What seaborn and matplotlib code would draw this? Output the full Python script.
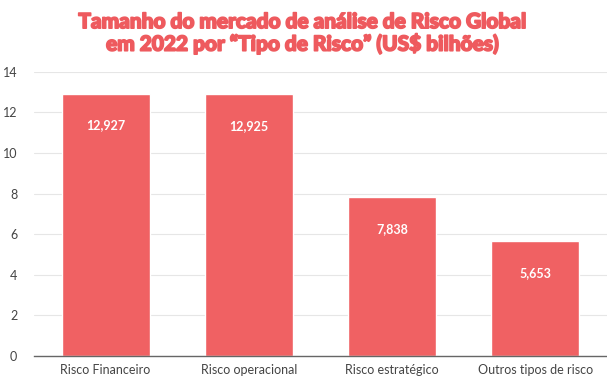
import matplotlib
matplotlib.use("Agg")
import matplotlib.pyplot as plt
import matplotlib.patheffects as pe
import seaborn as sns
import pandas as pd

categories = ["Risco Financeiro", "Risco operacional", "Risco estratégico", "Outros tipos de risco"]
values = [12.927, 12.925, 7.838, 5.653]
value_labels = ["12,927", "12,925", "7,838", "5,653"]
yticks = [0, 2, 4, 6, 8, 10, 12, 14]

sns.set_theme(style="white")
plt.rcParams['font.family'] = ['Lato', 'DejaVu Sans']

df = pd.DataFrame({"cat": categories, "val": values})
fig = plt.figure(figsize=(6.07, 3.8), dpi=100)
ax = fig.add_axes([0.056, 0.063, 0.944, 0.748])
bar_color = "#F06163"
sns.barplot(data=df, x="cat", y="val", color=bar_color, saturation=1, width=0.615, ax=ax)
ax.set_ylim(0, 14)
ax.set_xlim(-0.5, 3.5)
ax.set_yticks(yticks)
ax.set_yticklabels([str(t) for t in yticks])
ax.set_xlabel("")
ax.set_ylabel("")
ax.yaxis.grid(True, color="#e6e6e6", linewidth=0.8)
ax.set_axisbelow(True)
for s in ["top", "right", "left"]:
    ax.spines[s].set_visible(False)
ax.spines["bottom"].set_color("#666666")
ax.spines["bottom"].set_linewidth(1.0)
ax.tick_params(axis="both", length=0, labelsize=9, colors="#444444")
ax.tick_params(axis="y", pad=12)
ax.tick_params(axis="x", pad=6)

for i, (v, lab) in enumerate(zip(values, value_labels)):
    ax.annotate(lab, (i, v), xytext=(0, -23), textcoords="offset points",
                ha="center", va="center", color="white", fontsize=9, fontweight="bold")

t = fig.text(0.5, 0.968, "Tamanho do mercado de análise de Risco Global\nem 2022 por “Tipo de Risco” (US$ bilhões)",
             ha="center", va="top", fontsize=15, fontweight="black", color="#EE5A5E", linespacing=1.15)
t.set_path_effects([pe.withStroke(linewidth=1.2, foreground="#EE5A5E")])

fig.savefig("out.png", dpi=100)
